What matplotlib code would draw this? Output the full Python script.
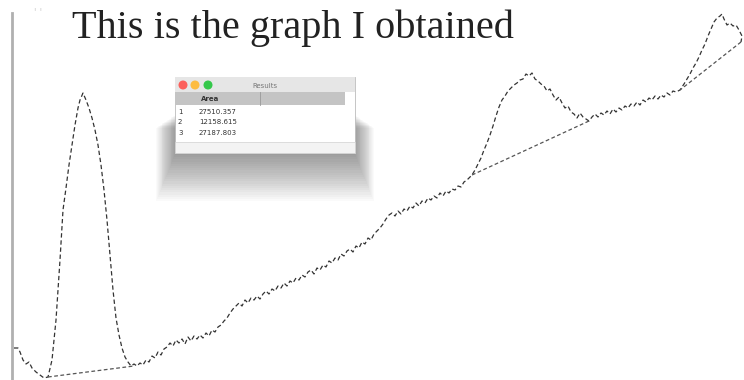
import matplotlib.pyplot as plt
from matplotlib.patches import Rectangle, Circle

# profile (x = distance, y = pixel row from top), in pieces
start_x = [14, 18, 20, 23, 26, 29, 32, 36, 40, 44, 48]
start_y = [348, 348, 352, 360, 364, 362, 368, 372, 375, 378, 377]

peak1_x = [52, 56, 60, 63, 66, 69, 72, 75, 78, 80, 83, 86, 89, 92, 95, 98, 101, 104, 107, 110,
           113, 116, 119, 122, 125, 128, 131, 134]
peak1_y = [360, 320, 260, 210, 188, 165, 145, 125, 108, 100, 93, 100, 108, 118, 130, 145, 165, 190, 220, 255,
           290, 318, 335, 348, 357, 362, 366, 364]

rise_x = [137, 140, 143, 146, 149, 152, 155, 158, 161, 164, 167, 170, 173, 176, 179, 182, 185, 188, 191, 194,
          197, 200, 203, 206, 209, 212, 215, 218, 221, 224, 227, 230, 233, 236, 239, 242, 245, 248, 251, 254,
          257, 260, 263, 266, 269, 272, 275, 278, 281, 284, 287, 290, 293, 296, 299, 302, 305, 308, 311, 314,
          317, 320, 323, 326, 329, 332, 335, 338, 341, 344, 347, 350, 353, 356, 359, 362, 365, 368, 371, 374,
          377, 380, 383, 386, 389, 392, 395, 398, 401, 404, 407, 410, 413, 416, 419, 422, 425, 428, 431, 434,
          437, 440, 443, 446, 449, 452, 455, 458, 461, 464, 467, 470, 472]
rise_y = [366, 363, 365, 360, 362, 356, 358, 352, 355, 349, 347, 343, 346, 340, 343, 339, 344, 337, 341, 336,
          339, 335, 338, 333, 336, 330, 332, 327, 325, 321, 318, 313, 309, 306, 303, 306, 300, 303, 298, 300,
          296, 299, 294, 291, 294, 289, 291, 286, 288, 283, 286, 281, 283, 278, 280, 275, 277, 272, 270, 274,
          268, 270, 265, 267, 261, 263, 258, 260, 254, 256, 251, 249, 252, 246, 248, 242, 244, 238, 240, 234,
          231, 228, 224, 219, 215, 213, 216, 211, 214, 209, 211, 206, 208, 203, 206, 201, 203, 198, 200, 196,
          198, 193, 196, 191, 193, 189, 190, 186, 187, 182, 180, 177, 175]

peak2_x = [475, 478, 481, 484, 487, 490, 493, 496, 499, 502, 505, 508, 511, 514, 517, 520, 523, 526, 529, 532,
           535, 538, 541, 544, 547, 550, 553, 556, 559, 562, 565, 568, 571, 574, 577, 580, 583, 586, 589]
peak2_y = [170, 164, 158, 150, 143, 135, 126, 116, 107, 100, 96, 91, 88, 85, 83, 80, 79, 74, 76, 73,
           79, 81, 84, 86, 91, 89, 95, 100, 97, 103, 108, 106, 112, 114, 118, 113, 117, 119, 121]

tail_x = [592, 595, 598, 601, 604, 607, 610, 613, 616, 619, 622, 625, 628, 631, 634, 637, 640, 643, 646, 649,
          652, 655, 658, 661, 664, 667, 670, 673, 676, 680]
tail_y = [117, 114, 117, 113, 115, 111, 114, 109, 112, 108, 110, 106, 108, 104, 106, 102, 105, 100, 102, 98,
          100, 96, 99, 95, 97, 93, 95, 91, 92, 90]

peak3_x = [684, 687, 690, 693, 696, 699, 702, 705, 708, 711, 714, 717, 720, 722, 724, 727, 730, 733, 736, 739,
           742, 741]
peak3_y = [84, 79, 74, 68, 63, 57, 50, 44, 36, 29, 22, 18, 16, 14, 19, 25, 23, 26, 25, 30,
           36, 42]

# straight baselines closing the peaks
base_x = [[48, 134], [472, 589], [741, 680]]
base_y = [[377, 366], [175, 121], [42, 90]]

title = "This is the graph I obtained"
win_title = "Results"
col_head = "Area"
row_ids = ["1", "2", "3"]
row_vals = ["27510.357", "12158.615", "27187.803"]

prof_x = start_x + peak1_x + rise_x + peak2_x + tail_x + peak3_x
prof_y = start_y + peak1_y + rise_y + peak2_y + tail_y + peak3_y

fig = plt.figure(figsize=(7.44, 3.80), dpi=100)
ax = fig.add_axes([0, 0, 1, 1])
ax.set_xlim(0, 744)
ax.set_ylim(380, 0)
ax.axis('off')

# left axis line
ax.plot([12, 12], [13, 380], color='#b0b0b0', lw=2)
ax.text(34, 16, "' '", fontsize=7, color='#cccccc')

ax.plot(prof_x, prof_y, color='#333333', lw=0.9, ls=(0, (3.5, 2.2)))
for bx, by in zip(base_x, base_y):
    ax.plot(bx, by, color='#555555', lw=0.9, ls=(0, (3, 2)))

ax.text(72, 38, title, fontsize=29, family='Liberation Serif', color='#222222')

# small Results window with soft shadow
for i in range(22):
    ax.add_patch(Rectangle((175 - i * 0.9, 115 + i * 0.6), 180 + i * 1.8, 40 + i * 1.6,
                           color='black', alpha=0.018, lw=0, zorder=3))
ax.add_patch(Rectangle((175, 77), 180, 76, facecolor='white', edgecolor='#bbbbbb', lw=0.6, zorder=4))
ax.add_patch(Rectangle((175, 77), 180, 15, facecolor='#e6e6e6', edgecolor='none', zorder=5))
ax.add_patch(Rectangle((175, 92), 170, 13, facecolor='#c4c4c4', edgecolor='none', zorder=5))
ax.plot([260, 260], [92, 105], color='#999999', lw=0.6, zorder=6)
ax.add_patch(Rectangle((175, 142), 180, 11, facecolor='#f3f3f3', edgecolor='#d0d0d0', lw=0.5, zorder=5))
for cx, c in zip([183, 195, 208], ['#fc605c', '#fdbc40', '#34c84a']):
    ax.add_patch(Circle((cx, 85), 3.8, color=c, zorder=6))
ax.text(265, 85.5, win_title, fontsize=5, color='#777777', ha='center', va='center', zorder=6)
ax.text(201, 99, col_head, fontsize=5, color='#333333', weight='bold', va='center', zorder=6)
for k, (rid, val) in enumerate(zip(row_ids, row_vals)):
    ax.text(178, 112 + k * 10.5, rid, fontsize=5, color='#333333', va='center', zorder=6)
    ax.text(199, 112 + k * 10.5, val, fontsize=5, color='#333333', va='center', zorder=6)

fig.savefig('out.png', dpi=100)
